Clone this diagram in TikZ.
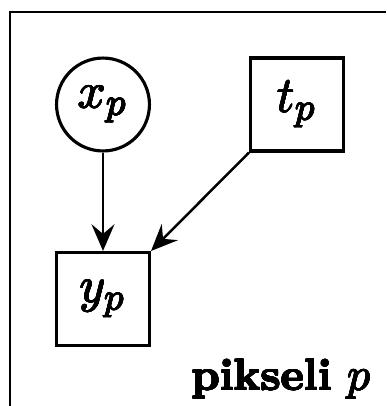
\documentclass[tikz,border=0pt]{standalone}
\usepackage[copies]{contour}
\usetikzlibrary{arrows.meta}
\contourlength{0.12pt}
\contournumber{16}
\newcommand{\heavy}[1]{\contour{black}{#1}}
\begin{document}
\begin{tikzpicture}[x=0.24pt,y=-0.24pt,
  var/.style={draw,line width=0.75pt,minimum size=22.3pt,inner sep=0pt,font=\fontsize{12.4}{15}\selectfont},
  obs/.style={var,rectangle},
  latent/.style={var,circle},
  edge/.style={line width=0.6pt,-{Stealth[length=6.4pt,width=5.5pt,inset=2.3pt]}},
  plate/.style={draw,line width=0.6pt}]
  \useasboundingbox (0,0) rectangle (386,406);
  \clip (0,0) rectangle (386,406);
  % plate border (continues past the right and bottom edges)
  \draw[plate] (10,12) rectangle (420,440);
  % variables
  \node[latent] (x) at (103,104.5) {\heavy{$x_p$}};
  \node[obs] (t) at (297,104.5) {\heavy{$t_p$}};
  \node[obs] (y) at (103,299) {\heavy{$y_p$}};
  % dependencies
  \draw[edge] (x) -- (y);
  \draw[edge] (t.south west) -- (y.north east);
  % plate label
  \node[anchor=base east,inner sep=0pt,font=\fontsize{10.6}{13}\selectfont] (lbl) at (371,390) {\heavy{\textbf{pikseli} $p$}};
\end{tikzpicture}
\end{document}
